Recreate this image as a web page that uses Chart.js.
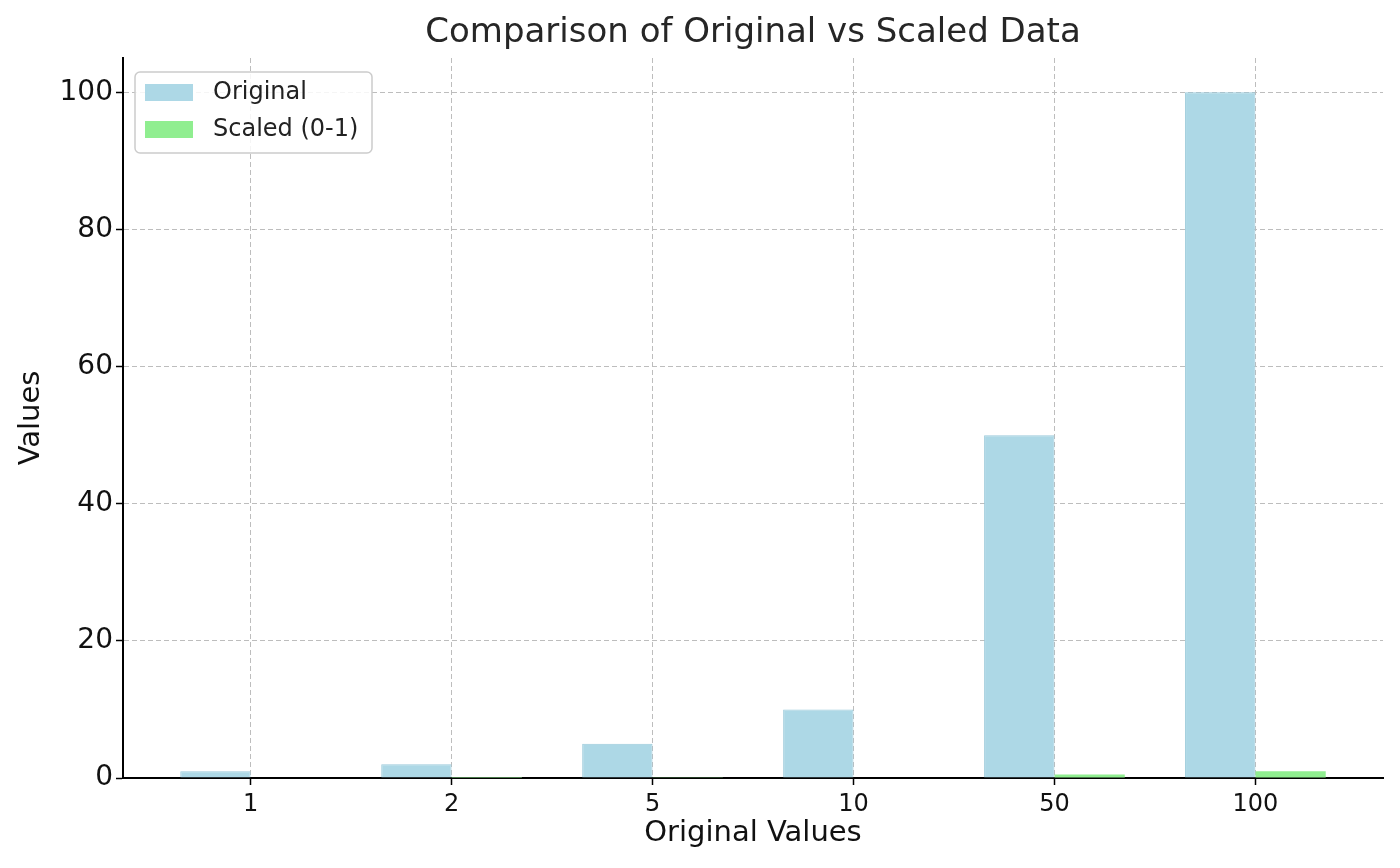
<!DOCTYPE html>
<html>
<head>
<meta charset="utf-8">
<script src="https://cdn.jsdelivr.net/npm/chart.js@4.4.1/dist/chart.umd.min.js"></script>
<style>
  body { margin: 0; background: #fff; }
  #wrap { width: 1400px; height: 868px; }
</style>
</head>
<body>
<div id="wrap"><canvas id="chart" width="1400" height="868"></canvas></div>
<script>
const categories = ['1', '2', '5', '10', '50', '100'];
const originalValues = [1, 2, 5, 10, 50, 100];
const scaledValues = [0, 0.0101, 0.0404, 0.0909, 0.4949, 1];
const yTicks = [0, 20, 40, 60, 80, 100];
const chartTitle = 'Comparison of Original vs Scaled Data';

const FONT = "'DejaVu Sans', sans-serif";

// title centred over the plot area, like matplotlib
const plotTitle = {
  id: 'plotTitle',
  afterDraw(chart) {
    const ctx = chart.ctx;
    const area = chart.chartArea;
    ctx.save();
    ctx.font = '34px ' + FONT;
    ctx.fillStyle = '#262626';
    ctx.textAlign = 'center';
    ctx.textBaseline = 'middle';
    ctx.fillText(chartTitle, (area.left + area.right) / 2, 33);
    ctx.restore();
  }
};

// legend box drawn inside the plot, top-left
const innerLegend = {
  id: 'innerLegend',
  afterDraw(chart) {
    const ctx = chart.ctx;
    const x = 135, y = 72, w = 237, h = 81, r = 5;
    ctx.save();
    ctx.beginPath();
    ctx.moveTo(x + r, y);
    ctx.arcTo(x + w, y, x + w, y + h, r);
    ctx.arcTo(x + w, y + h, x, y + h, r);
    ctx.arcTo(x, y + h, x, y, r);
    ctx.arcTo(x, y, x + w, y, r);
    ctx.closePath();
    ctx.fillStyle = 'rgba(255,255,255,0.85)';
    ctx.fill();
    ctx.strokeStyle = '#cccccc';
    ctx.lineWidth = 1.5;
    ctx.stroke();
    ctx.font = '24px ' + FONT;
    ctx.textBaseline = 'middle';
    chart.data.datasets.forEach((ds, i) => {
      const cy = 92 + i * 37;
      ctx.fillStyle = ds.backgroundColor;
      ctx.fillRect(145, cy - 8, 48, 17);
      ctx.fillStyle = '#222';
      ctx.fillText(ds.label, 213, cy + 1);
    });
    ctx.restore();
  }
};

new Chart(document.getElementById('chart'), {
  type: 'bar',
  data: {
    datasets: [
      {
        label: 'Original',
        data: originalValues.map((v, i) => ({ x: i, y: v })),
        backgroundColor: '#ADD8E6',
        borderColor: '#9ccbdb',
        borderWidth: 1
      },
      {
        label: 'Scaled (0-1)',
        data: scaledValues.map((v, i) => ({ x: i, y: v })),
        backgroundColor: '#90EE90',
        borderWidth: 0
      }
    ]
  },
  options: {
    responsive: false,
    animation: false,
    devicePixelRatio: 1,
    categoryPercentage: 0.7,
    barPercentage: 1.0,
    layout: { padding: { left: 0, right: 17, top: 58, bottom: 0 } },
    plugins: {
      legend: { display: false },
      tooltip: { enabled: false },
      title: { display: false }
    },
    scales: {
      x: {
        type: 'linear',
        min: -0.635,
        max: 5.635,
        offset: false,
        z: 1,
        afterFit(scale) { scale.height = 90; },
        ticks: {
          stepSize: 1,
          includeBounds: false,
          autoSkip: false,
          maxRotation: 0,
          color: '#111',
          padding: 5,
          font: { family: FONT, size: 24 },
          callback: v => categories[v] ?? ''
        },
        grid: {
          offset: false,
          color: '#bdbdbd',
          tickColor: '#000',
          tickLength: 7,
          tickWidth: 1.5,
          tickBorderDash: []
        },
        border: { display: true, color: '#000', width: 2, dash: [5, 3] },
        title: {
          display: true,
          text: 'Original Values',
          color: '#111',
          font: { family: FONT, size: 29 },
          padding: { top: 4, bottom: 17 }
        }
      },
      y: {
        min: 0,
        max: 105,
        z: 1,
        afterFit(scale) { scale.width = 123; },
        ticks: {
          stepSize: 20,
          includeBounds: false,
          color: '#111',
          padding: 3,
          font: { family: FONT, size: 28 },
          callback: v => yTicks.includes(v) ? String(v) : ''
        },
        grid: {
          color: '#bdbdbd',
          tickColor: '#000',
          tickLength: 7,
          tickWidth: 1.5,
          tickBorderDash: []
        },
        border: { display: true, color: '#000', width: 2, dash: [5, 3] },
        title: {
          display: true,
          text: 'Values',
          color: '#111',
          font: { family: FONT, size: 29 },
          padding: { top: 14, bottom: 4 }
        }
      }
    }
  },
  plugins: [plotTitle, innerLegend]
});
</script>
</body>
</html>
